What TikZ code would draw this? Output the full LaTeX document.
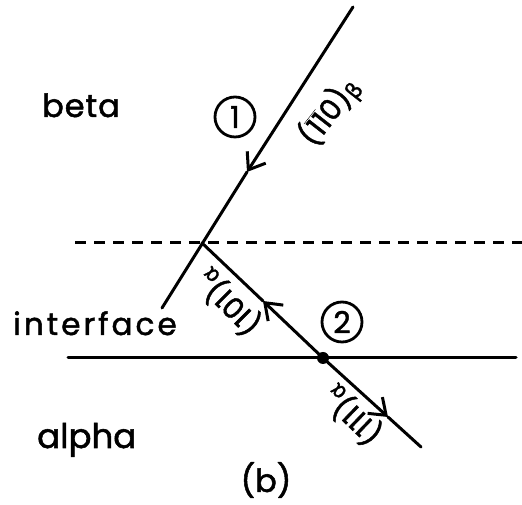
\documentclass[tikz,border=0pt]{standalone}
\usepackage{fontspec}
\setmainfont{Poppins}[FakeBold=1.6]
\newfontfamily\grk{DejaVu Sans}[FakeBold=1.2]
\usetikzlibrary{arrows.meta}
\newcommand\obar[1]{$\overline{\hbox{#1}}$}
\newcommand\subgr[1]{\raisebox{-4pt}{\grk\fontsize{22}{22}\selectfont #1}}
\begin{document}
\begin{tikzpicture}[x=1pt,y=1pt,
  ln/.style={line width=3pt,line cap=round},
  arr/.style={ln,-{Straight Barb[length=15pt,width=22pt,line width=3pt]}},
  word/.style={font=\fontsize{32}{34}\selectfont,inner sep=0pt},
  lab/.style={font=\fontsize{29}{30}\selectfont,inner sep=0pt},
  circnum/.style={circle,draw,line width=2.8pt,minimum size=40pt,inner sep=0pt,font=\fontsize{30}{30}\selectfont},
  dotnode/.style={circle,fill,inner sep=0pt,minimum size=12pt}]
\useasboundingbox (0,0) rectangle (522,505);
% coordinates
\coordinate (A) at (353,498);
\coordinate (P) at (202,262);
\coordinate (L) at (162,197);
\coordinate (E) at (421,58);
\coordinate (M1) at (247,333);
\coordinate (M2) at (263,204);
\coordinate (M3) at (388,88);
\coordinate (dl) at (75,262);
\coordinate (dr) at (522,262);
\coordinate (sl) at (68,147);
\coordinate (sr) at (516,147);
% interface lines
\draw[ln,line cap=butt,dash pattern=on 11pt off 8pt] (dl) -- (dr);
\draw[ln] (sl) -- (sr);
\node[dotnode] (D) at (323,147) {};
% line 1
\draw[arr] (A) -- (M1);
\draw[ln] (M1) -- (L);
% line 2
\draw[arr] (D.center) -- (M2);
\draw[ln] (M2) -- (P);
\draw[arr] (D.center) -- (M3);
\draw[ln] (M3) -- (E);
% circled numbers
\node[circnum] (c1) at (235,388) {1};
\node[circnum] (c2) at (342,183) {2};
% words
\node[word,anchor=base west] (beta) at (42,388) {\addfontfeature{LetterSpace=3}beta};
\node[word,anchor=base west] (iface) at (13,170) {\fontsize{31}{33}\selectfont\addfontfeature{LetterSpace=10}interface};
\node[word,anchor=base west] (alpha) at (37,57) {\fontsize{34}{36}\selectfont alpha};
\node[word] (b) at (266,25) {\fontsize{32}{34}\selectfont (b)};
% plane labels
\node[lab,rotate=52] (l1) at (330,393) {(\obar{1}\obar{1}0)\subgr{β}};
\node[lab,rotate=135] (l2) at (228,202) {(101)\subgr{α}};
\node[lab,rotate=136] (l3) at (352,89) {(111)\subgr{α}};
\end{tikzpicture}
\end{document}
